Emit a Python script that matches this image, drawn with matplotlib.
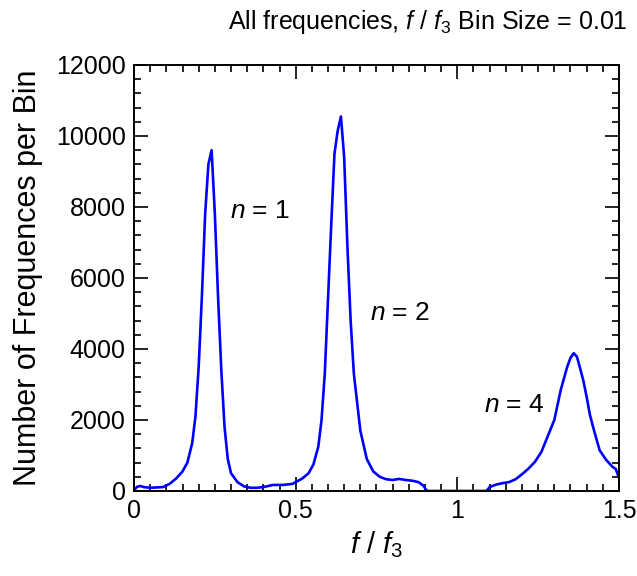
import matplotlib
matplotlib.use("Agg")
import matplotlib.pyplot as plt
from matplotlib.ticker import MultipleLocator

plt.rcParams['font.family'] = ['Liberation Sans', 'DejaVu Sans']
plt.rcParams['mathtext.fontset'] = 'custom'
plt.rcParams['mathtext.rm'] = 'Liberation Sans'
plt.rcParams['mathtext.it'] = 'Liberation Sans:italic'
plt.rcParams['mathtext.bf'] = 'Liberation Sans:bold'

freq = [0.0, 0.01, 0.02, 0.03, 0.05, 0.07, 0.09, 0.11, 0.13, 0.15, 0.165, 0.18, 0.19,
        0.20, 0.21, 0.22, 0.23, 0.24, 0.25, 0.26, 0.27, 0.28, 0.29, 0.30, 0.32, 0.34,
        0.36, 0.38, 0.40, 0.43, 0.46, 0.49, 0.52, 0.54, 0.555, 0.57, 0.58, 0.59, 0.60,
        0.61, 0.62, 0.63, 0.64, 0.65, 0.66, 0.67, 0.68, 0.69, 0.70, 0.72, 0.74, 0.76,
        0.78, 0.80, 0.82, 0.84, 0.86, 0.88, 0.895, 0.906, 0.95, 1.00, 1.05, 1.09,
        1.10, 1.12, 1.14, 1.16, 1.18, 1.20, 1.22, 1.24, 1.26, 1.28, 1.30, 1.32, 1.34,
        1.35, 1.36, 1.37, 1.38, 1.39, 1.40, 1.41, 1.42, 1.44, 1.46, 1.48, 1.49, 1.50]
counts = [30, 120, 140, 110, 90, 100, 110, 200, 350, 550, 800, 1350, 2100,
          3500, 5500, 7800, 9200, 9600, 7800, 5450, 3400, 1800, 900, 500, 250, 130,
          90, 90, 110, 170, 170, 200, 350, 500, 750, 1250, 2000, 3300, 5400,
          7500, 9500, 10150, 10550, 9400, 6900, 4800, 3300, 2500, 1700, 900, 550, 400,
          330, 310, 340, 310, 290, 250, 150, 0, 0, 0, 0, 0,
          110, 180, 220, 250, 330, 470, 630, 820, 1100, 1550, 2000, 2850, 3500,
          3750, 3880, 3780, 3450, 3100, 2650, 2150, 1800, 1150, 880, 680, 620, 370]

labels = ["$n$ = 1", "$n$ = 2", "$n$ = 4"]
label_x = [0.297, 0.73, 1.083]
label_y = [7900, 5000, 2420]

fig = plt.figure(figsize=(6.37, 5.76), dpi=100)
ax = fig.add_axes([0.2104, 0.1476, 0.7613, 0.7396])
ax.plot(freq, counts, color='#0000ff', lw=1.9)
ax.set_xlim(0, 1.5)
ax.set_ylim(0, 12000)
ax.set_xticks([0, 0.5, 1, 1.5])
ax.set_xticklabels(['0', '0.5', '1', '1.5'])
ax.xaxis.set_minor_locator(MultipleLocator(0.05))
ax.yaxis.set_major_locator(MultipleLocator(2000))
ax.yaxis.set_minor_locator(MultipleLocator(400))
ax.tick_params(which='both', direction='in', top=True, right=True, width=1.2,
               labelsize=18, pad=6)
ax.tick_params(which='major', length=10)
ax.tick_params(which='minor', length=5)
for s in ax.spines.values():
    s.set_linewidth(1.4)

for t, x, y in zip(labels, label_x, label_y):
    ax.text(x, y, t, fontsize=19, va='center', ha='left')

ax.set_xlabel("$f$ / $f_3$", fontsize=21, labelpad=4)
ax.set_ylabel("Number of Frequences per Bin", fontsize=22, labelpad=9)
fig.text(0.672, 1 - 29/576, "All frequencies, $f$ / $f_3$ Bin Size = 0.01",
         fontsize=18, ha='center', va='baseline')

fig.savefig("out.png", dpi=100)
